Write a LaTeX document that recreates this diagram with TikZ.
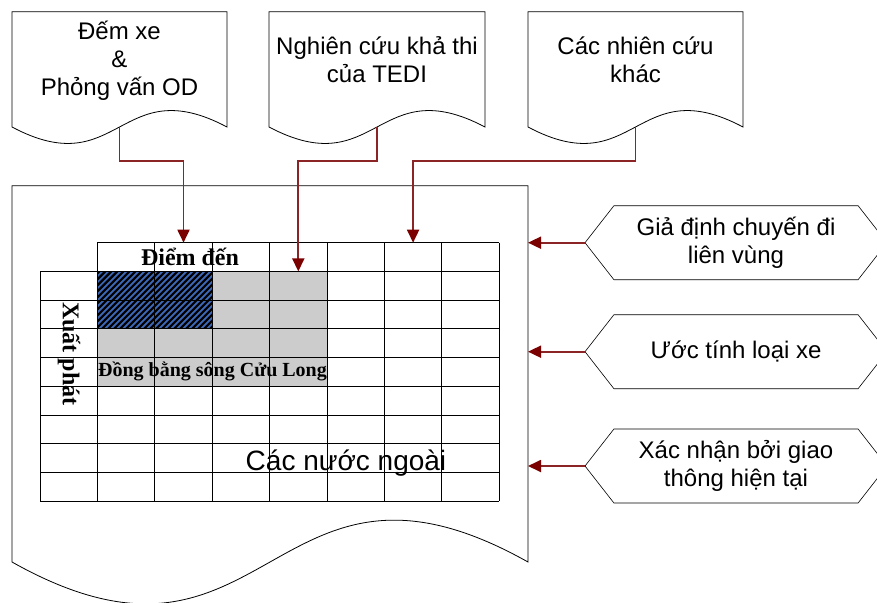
\documentclass[tikz,border=0pt]{standalone}
\usepackage{fontspec}
\setmainfont{Liberation Sans}
\newfontfamily\timesfont{Liberation Serif}
\usepackage{tikz}
\usetikzlibrary{arrows.meta,shapes.symbols}

\definecolor{linkred}{HTML}{8B2525}
\definecolor{tipred}{HTML}{7B0000}
\definecolor{hatchblue}{HTML}{3C68B8}

\begin{document}
\begin{tikzpicture}[x=1pt, y=-1pt,
    font=\fontsize{24}{28}\selectfont,
    doc/.style={draw=black, line width=0.8pt, fill=white},
    cell/.style={draw=black, line width=0.8pt},
    link/.style={draw=linkred, line width=1.8pt,
      -{Triangle[length=13pt, width=12pt, color=tipred]}},
    hexbox/.style={signal, signal to=west and east, signal pointer angle=104,
      draw=black, line width=0.6pt, minimum width=302pt, minimum height=74pt,
      inner sep=0pt, align=center},
    serif/.style={font=\timesfont\bfseries\fontsize{#1}{26}\selectfont},
    serif/.default=24]
  \useasboundingbox (0,0) rectangle (877,602);
  \clip (0,0) rectangle (877,602);

  % source documents on top
  \draw[doc] (12,11.7) -- (227,11.7) -- (227,127)
    .. controls (119.5,70) and (119.5,184) .. (12,127) -- cycle;
  \draw[doc] (269,11.7) -- (485,11.7) -- (485,127)
    .. controls (377,70) and (377,184) .. (269,127) -- cycle;
  \draw[doc] (528,11.7) -- (743,11.7) -- (743,127)
    .. controls (635.5,70) and (635.5,184) .. (528,127) -- cycle;
  \node[align=center] (demxe) at (119.5,61) {Đếm xe\\\&\\Phỏng vấn OD};
  \node[align=center] (tedi) at (377,60) {Nghiên cứu khả thi\\của TEDI};
  \node[align=center] (khac) at (635.5,60) {Các nhiên cứu\\khác};
  \coordinate (demxe-b) at (119.5,127);
  \coordinate (tedi-b) at (377,127);
  \coordinate (khac-b) at (635.5,127);

  % OD matrix sheet
  \draw[doc] (12,185.7) -- (528,185.7) -- (528,562)
    .. controls (270,417) and (270,707) .. (12,562) -- cycle;
  \coordinate (sheet-r) at (528,0);

  % shaded cells
  \fill[gray!40] (97.4,271.4) rectangle (327,386);
  \fill[hatchblue] (97.4,271.4) rectangle (212.2,328.8);
  \begin{scope}
    \clip (97.4,271.4) rectangle (212.2,328.8);
    \foreach \x in {-60,-54,...,216}
      \draw[line width=2.2pt] (\x,328.8) -- (\x+57.4,271.4);
  \end{scope}

  % matrix grid
  \foreach \i in {0,...,7}
    \draw[cell] (97.4+\i*57.4,242.7) -- (97.4+\i*57.4,501);
  \draw[cell] (40,271.4) -- (40,501);
  \draw[cell] (97.4,242.7) -- (499.2,242.7);
  \foreach \j in {1,...,9}
    \draw[cell] (40,242.7+\j*28.7) -- (499.2,242.7+\j*28.7);

  \node[serif] (dest) at (190,257) {Điểm đến};
  \node[serif, rotate=-90] (orig) at (69,354) {Xuất phát};
  \node[serif=20] (mekong) at (212.5,371.5) {Đồng bằng sông Cửu Long};
  \node[font=\fontsize{28}{32}\selectfont] (abroad) at (346,463) {Các nước ngoài};

  % inputs into the matrix
  \coordinate (in1) at (183.5,242.7);
  \coordinate (in2) at (298.3,271.4);
  \coordinate (in3) at (413.1,242.7);
  \draw[link] (demxe-b) -- ++(0,33.7) -| (in1);
  \draw[link] (tedi-b) -- ++(0,33.7) -| (in2);
  \draw[link] (khac-b) -- ++(0,33.7) -| (in3);

  % assumptions on the right
  \node[hexbox] (trips) at (736,242.7) {Giả định chuyến đi\\liên vùng};
  \node[hexbox] (types) at (736,351.7) {Ước tính loại xe};
  \node[hexbox] (counts) at (736,466) {Xác nhận bởi giao\\thông hiện tại};
  \draw[link] (trips.west) -- (trips.west -| sheet-r);
  \draw[link] (types.west) -- (types.west -| sheet-r);
  \draw[link] (counts.west) -- (counts.west -| sheet-r);
\end{tikzpicture}
\end{document}
